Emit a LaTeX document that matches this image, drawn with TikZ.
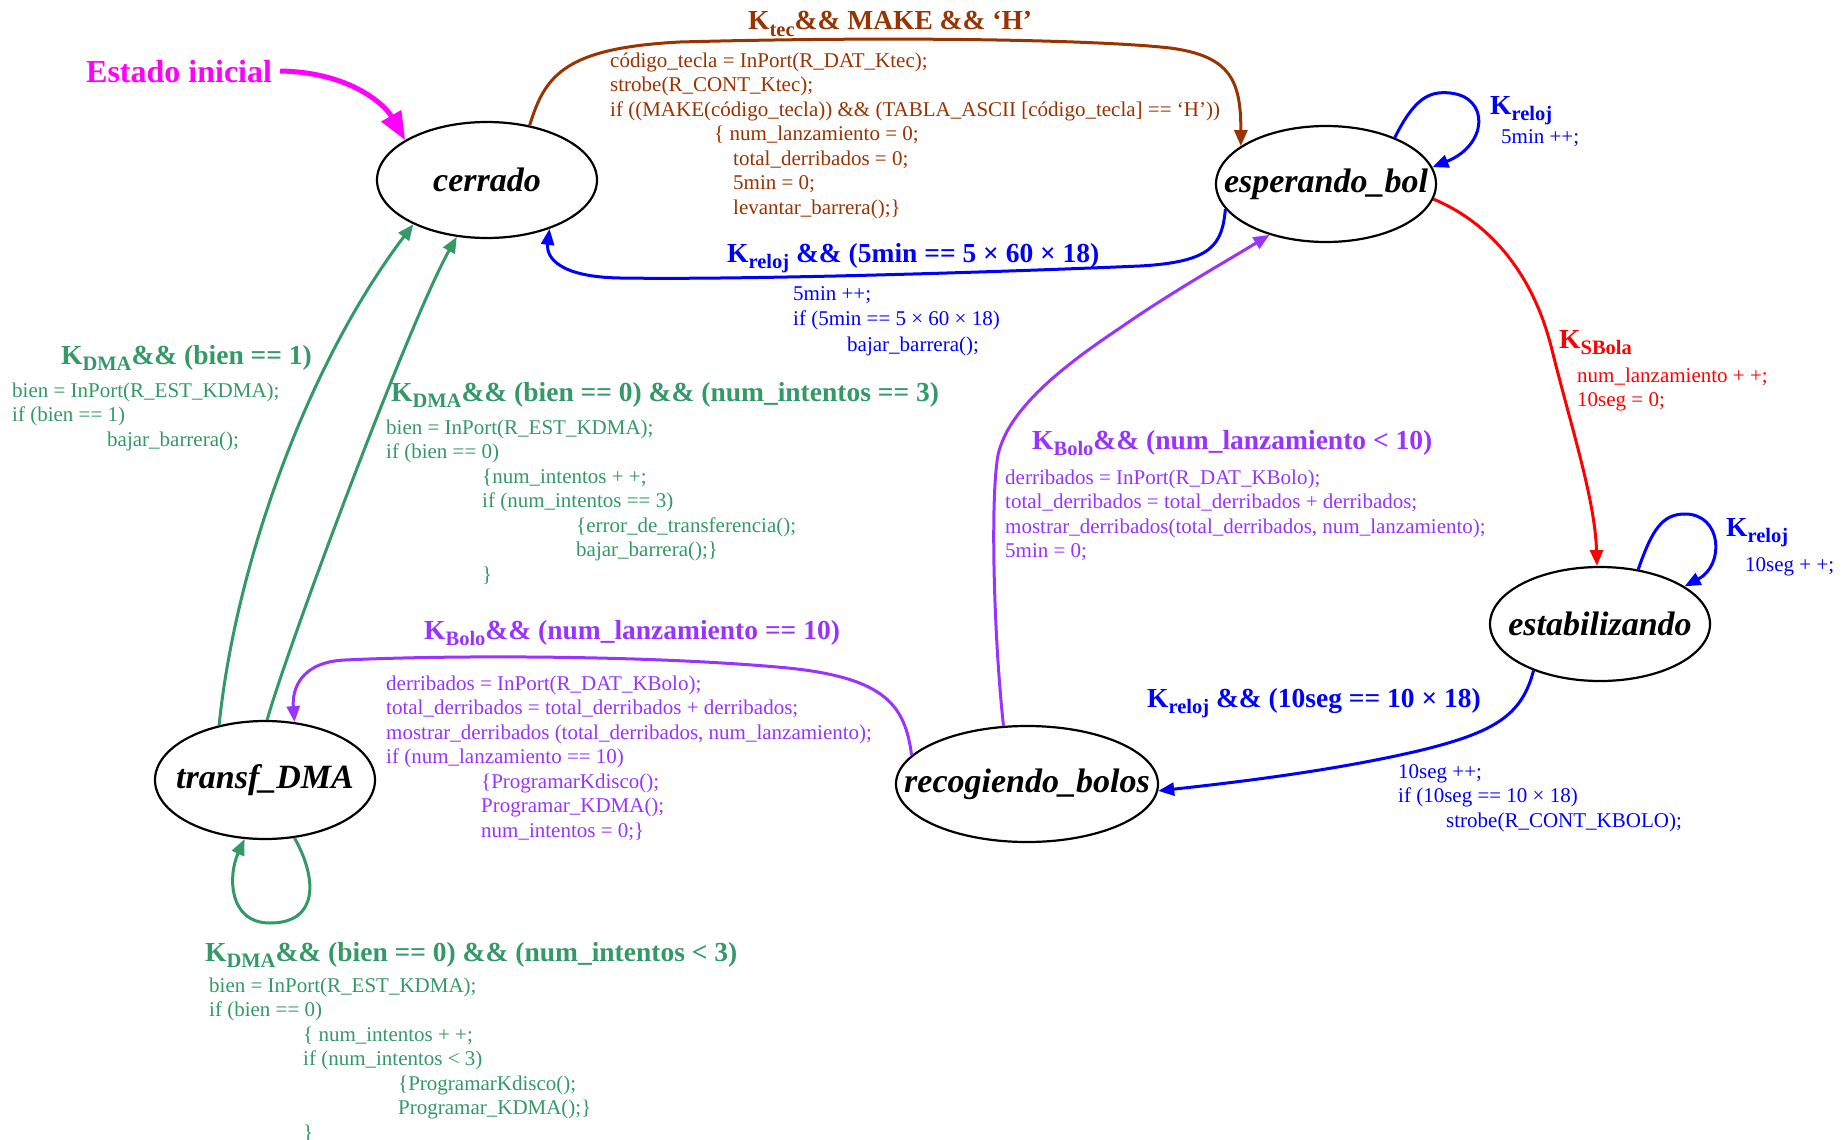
\documentclass[tikz,border=0pt]{standalone}
\usepackage{fontspec}
\setmainfont{Liberation Serif}
\usepackage{graphicx}
\usetikzlibrary{shapes.geometric,arrows.meta}
\definecolor{cbrown}{RGB}{153,51,0}
\definecolor{cgreen}{RGB}{51,153,102}
\definecolor{cpurple}{RGB}{153,51,255}
\definecolor{cmag}{RGB}{255,0,255}
\definecolor{cblue}{RGB}{0,0,255}
\definecolor{cred}{RGB}{255,0,0}
\newcommand\ksub[1]{\raisebox{-6.5pt}{\fontsize{20.5}{20.5}\selectfont #1}}
\begin{document}
\begin{tikzpicture}[x=1pt,y=-1pt,
  state/.style={draw=black, line width=2.2pt, ellipse, minimum width=220pt, minimum height=116pt, inner sep=0pt, font=\bfseries\itshape\fontsize{34}{34}\selectfont},
  body/.style={anchor=base west, align=left, inner sep=0pt, font=\fontsize{21}{24.5}\selectfont},
  head/.style={anchor=base west, inner sep=0pt, font=\bfseries\fontsize{27.5}{30}\selectfont},
  tr/.style={line width=3pt, -{Triangle[length=16pt,width=13pt]}}]
\useasboundingbox (0,0) rectangle (1847,1140);
\fill[white] (0,0) rectangle (1847,1140);

% states
\node[state] (cerrado) at (487,180) {\makebox[0pt]{cerrado}};
\node[state] (esp) at (1326,184) {\makebox[0pt]{esperando\_bol}};
\node[state, minimum height=114pt] (estab) at (1600,624) {\makebox[0pt]{estabilizando}};
\node[state, minimum width=262pt] (recog) at (1027,784) {\makebox[0pt]{recogiendo\_bolos}};
\node[state, minimum height=118pt] (transf) at (265,780) {\makebox[0pt]{transf\_DMA}};

% initial
\node[anchor=base west, inner sep=0pt, text=cmag, font=\bfseries\fontsize{32}{32}\selectfont] (estado) at (86,82) {Estado inicial};
\draw[cmag, line width=5pt, -{Triangle[length=28pt,width=22pt]}] ([xshift=8pt]estado.east) .. controls (350,72) and (385,105) .. (cerrado.154);

% cerrado -> esperando
\draw[tr, cbrown] (cerrado.52) .. controls (545,75) and (565,48) .. (680,42) .. controls (900,36) and (1100,40) .. (1170,48) .. controls (1230,56) and (1241,80) .. (esp.156);
\node[head, text=cbrown] (hbrown) at (748,30) {K\ksub{tec}\&\& MAKE \&\& ‘H’};
\node[body, text=cbrown] (bbrown) at (610,214) {código\_tecla = InPort(R\_DAT\_Ktec);\\
strobe(R\_CONT\_Ktec);\\
if ((MAKE(código\_tecla)) \&\& (TABLA\_ASCII [código\_tecla] == ‘H’))\\
\hspace*{104pt}\{ num\_lanzamiento = 0;\\
\hspace*{123pt}total\_derribados = 0;\\
\hspace*{123pt}5min = 0;\\
\hspace*{123pt}levantar\_barrera();\}};

% esperando -> cerrado
\draw[tr, cblue] (esp.194) .. controls (1222,245) and (1212,262) .. (1140,266) .. controls (1000,272) and (750,280) .. (620,278) .. controls (560,277) and (546,258) .. (cerrado.322);
\node[head, text=cblue] (hblue1) at (727,262) {K\ksub{reloj} \&\& (5min == 5 × 60 × 18)};
\node[body, text=cblue, font=\fontsize{21}{25.3}\selectfont] (bblue1) at (793,351) {5min ++;\\
if (5min == 5 × 60 × 18)\\
\hspace*{54pt}bajar\_barrera();};

% esperando self loop
\draw[tr, cblue] (esp.34) .. controls (1415,97) and (1430,91) .. (1450,93) .. controls (1490,97) and (1488,145) .. (esp.9);
\node[head, text=cblue] (hblue2) at (1490,114) {K\ksub{reloj}};
\node[body, text=cblue] (bblue2) at (1501,143) {5min ++;};

% esperando -> estabilizando
\draw[tr, cred] (esp.352) .. controls (1495,225) and (1535,280) .. (1552,350) .. controls (1572,430) and (1595,500) .. (estab.93);
\node[head, text=cred] (hred) at (1559,348) {K\ksub{SBola}};
\node[body, text=cred] (bred) at (1577,406.5) {num\_lanzamiento + +;\\
10seg = 0;};

% estabilizando self loop
\draw[tr, cblue] (estab.55) .. controls (1652,530) and (1662,514) .. (1685,514) .. controls (1722,514) and (1725,565) .. (estab.24);
\node[head, text=cblue] (hblue3) at (1726,536) {K\ksub{reloj}};
\node[body, text=cblue] (bblue3) at (1745,571) {10seg + +;};

% estabilizando -> recogiendo
\draw[tr, cblue] (estab.215) .. controls (1522,715) and (1495,732) .. (1422,750) .. controls (1330,772) and (1220,784) .. (recog.357);
\node[head, text=cblue] (hblue4) at (1147,707) {K\ksub{reloj} \&\& (10seg == 10 × 18)};
\node[body, text=cblue] (bblue4) at (1398,827) {10seg ++;\\
if (10seg == 10 × 18)\\
\hspace*{48pt}strobe(R\_CONT\_KBOLO);};

% recogiendo -> esperando
\draw[tr, cpurple] (recog.112) .. controls (994,640) and (990,500) .. (998,455) .. controls (1008,410) and (1060,368) .. (1120,328) .. controls (1170,293) and (1225,262) .. (esp.222);
\node[head, text=cpurple] (hpur1) at (1032,449) {K\ksub{Bolo}\&\& (num\_lanzamiento < 10)};
\node[body, text=cpurple] (bpur1) at (1005,557.5) {derribados = InPort(R\_DAT\_KBolo);\\
total\_derribados = total\_derribados + derribados;\\
mostrar\_derribados(total\_derribados, num\_lanzamiento);\\
5min = 0;};

% recogiendo -> transf
\draw[tr, cpurple] (recog.166) .. controls (905,705) and (885,678) .. (788,668) .. controls (650,655) and (450,655) .. (345,660) .. controls (300,662) and (292,690) .. (transf.63);
\node[head, text=cpurple] (hpur2) at (424,639) {K\ksub{Bolo}\&\& (num\_lanzamiento == 10)};
\node[body, text=cpurple] (bpur2) at (386,837) {derribados = InPort(R\_DAT\_KBolo);\\
total\_derribados = total\_derribados + derribados;\\
mostrar\_derribados (total\_derribados, num\_lanzamiento);\\
if (num\_lanzamiento == 10)\\
\hspace*{95pt}\{ProgramarKdisco();\\
\hspace*{95pt}Programar\_KDMA();\\
\hspace*{95pt}num\_intentos = 0;\}};

% transf -> cerrado (bien == 1)
\draw[tr, cgreen] (transf.130) .. controls (236,560) and (310,360) .. (cerrado.211);
\node[head, text=cgreen] (hgr1) at (61,364) {K\ksub{DMA}\&\& (bien == 1)};
\node[body, text=cgreen] (bgr1) at (12,446) {bien = InPort(R\_EST\_KDMA);\\
if (bien == 1)\\
\hspace*{95pt}bajar\_barrera();};

% transf -> cerrado (num_intentos == 3)
\draw[tr, cgreen] (transf.88) .. controls (290,640) and (410,320) .. (cerrado.242);
\node[head, text=cgreen] (hgr2) at (391,401) {K\ksub{DMA}\&\& (bien == 0) \&\& (num\_intentos == 3)};
\node[body, text=cgreen] (bgr2) at (386,581) {bien = InPort(R\_EST\_KDMA);\\
if (bien == 0)\\
\hspace*{96pt}\{num\_intentos + +;\\
\hspace*{96pt}if (num\_intentos == 3)\\
\hspace*{190pt}\{error\_de\_transferencia();\\
\hspace*{190pt}bajar\_barrera();\}\\
\hspace*{96pt}\}};

% transf self loop
\draw[tr, cgreen] (transf.297) .. controls (318,880) and (318,923) .. (270,923) .. controls (228,923) and (228,875) .. (transf.251);
\node[head, text=cgreen] (hgr3) at (205,961) {K\ksub{DMA}\&\& (bien == 0) \&\& (num\_intentos < 3)};
\node[body, text=cgreen] (bgr3) at (209,1139) {bien = InPort(R\_EST\_KDMA);\\
if (bien == 0)\\
\hspace*{94pt}\{ num\_intentos + +;\\
\hspace*{94pt}if (num\_intentos < 3)\\
\hspace*{189pt}\{ProgramarKdisco();\\
\hspace*{189pt}Programar\_KDMA();\}\\
\hspace*{94pt}\}};
\end{tikzpicture}
\end{document}
